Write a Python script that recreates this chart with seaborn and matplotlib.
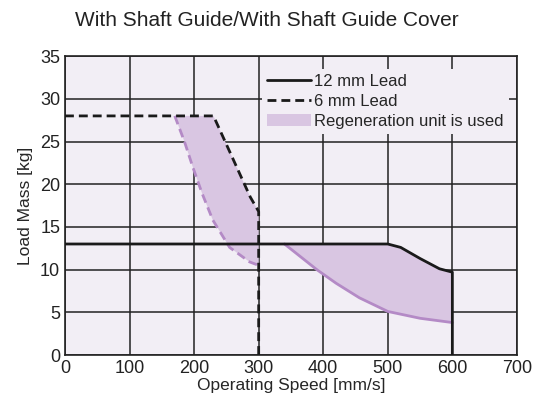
import matplotlib
matplotlib.use("Agg")
import matplotlib.pyplot as plt
import seaborn as sns
import pandas as pd
from matplotlib.lines import Line2D
from matplotlib.patches import Patch

# 12 mm lead limit
lead12_x = [0, 500, 520, 550, 580, 600, 600]
lead12_y = [13, 13, 12.6, 11.3, 10.1, 9.7, 0]
# 6 mm lead limit
lead6_x = [0, 230, 245, 287, 300, 300]
lead6_y = [28, 28, 25.5, 18.5, 16.8, 0]
# regeneration unit lower bounds
regen6_x = [170, 185, 198, 212, 229, 255, 286, 300]
regen6_y = [28, 25, 22, 19, 15.8, 12.6, 10.9, 10.5]
regen12_x = [340, 365, 390, 420, 456, 500, 550, 600]
regen12_y = [13, 11.5, 10, 8.4, 6.7, 5.1, 4.3, 3.8]

xticks = [0, 100, 200, 300, 400, 500, 600, 700]
yticks = [0, 5, 10, 15, 20, 25, 30, 35]

sns.set_style("ticks")
plt.rcParams["font.family"] = ["Liberation Sans", "DejaVu Sans"]

fill_c = "#d9c6e2"
line_c = "#b48ac6"
bg = "#f2eef5"
dash = (0, (3.2, 1.8))

fig = plt.figure(figsize=(5.34, 4.01), dpi=100)
ax = fig.add_axes([0.1217, 0.1147, 0.8463, 0.7453])
ax.set_facecolor(bg)

# fills
up6 = [(x, y) for x, y in zip(lead6_x[:-1], lead6_y[:-1]) if x >= regen6_x[0]]
poly6 = [(regen6_x[0], lead6_y[0])] + up6 + list(zip(regen6_x, regen6_y))[::-1]
ax.fill([p[0] for p in poly6], [p[1] for p in poly6], color=fill_c, lw=0, zorder=1)
up12 = [(x, y) for x, y in zip(lead12_x[:-1], lead12_y[:-1]) if x >= regen12_x[0]]
poly12 = [(regen12_x[0], lead12_y[0])] + up12 + list(zip(regen12_x, regen12_y))[::-1]
ax.fill([p[0] for p in poly12], [p[1] for p in poly12], color=fill_c, lw=0, zorder=1)

df12 = pd.DataFrame({"x": lead12_x, "y": lead12_y})
df6 = pd.DataFrame({"x": lead6_x, "y": lead6_y})
dr6 = pd.DataFrame({"x": regen6_x, "y": regen6_y})
dr12 = pd.DataFrame({"x": regen12_x, "y": regen12_y})

kw = dict(x="x", y="y", sort=False, estimator=None, ax=ax)
sns.lineplot(data=dr6, color=line_c, lw=2, linestyle=dash, zorder=3, **kw)
sns.lineplot(data=dr12, color=line_c, lw=2, zorder=3, **kw)
sns.lineplot(data=df12, color="#1a1a1a", lw=2, zorder=4, **kw)
sns.lineplot(data=df6, color="#1a1a1a", lw=2, linestyle=dash, zorder=4, **kw)

ax.set_xlim(0, 700)
ax.set_ylim(0, 35)
ax.set_xticks(xticks)
ax.set_yticks(yticks)
ax.grid(True, color="#222222", lw=1.1, zorder=2)
ax.set_axisbelow(True)
ax.tick_params(direction="in", length=0, labelsize=13, colors="#222222", pad=3.5)
for s in ax.spines.values():
    s.set_color("#222222")
    s.set_linewidth(1.2)
ax.set_xlabel("Operating Speed [mm/s]", fontsize=12.5, labelpad=1)
ax.set_ylabel("Load Mass [kg]", fontsize=12.5, labelpad=5)

handles = [Line2D([0], [0], color="#1a1a1a", lw=2),
           Line2D([0], [0], color="#1a1a1a", lw=2, linestyle=dash),
           Patch(facecolor=fill_c, edgecolor="none")]
leg = ax.legend(handles, ["12 mm Lead", "6 mm Lead", "Regeneration unit is used"],
                loc="upper right", fontsize=12, frameon=True, fancybox=False,
                handlelength=2.6, handletextpad=0.2, borderpad=0.3,
                labelspacing=0.3, bbox_to_anchor=(1.0, 0.985))
leg.get_frame().set_facecolor(bg)
leg.get_frame().set_edgecolor("none")
leg.get_frame().set_alpha(1)

fig.text(0.5, 0.95, "With Shaft Guide/With Shaft Guide Cover", ha="center",
         va="center", fontsize=15, color="#222222")

fig.savefig("out.png", dpi=100, facecolor="white")
